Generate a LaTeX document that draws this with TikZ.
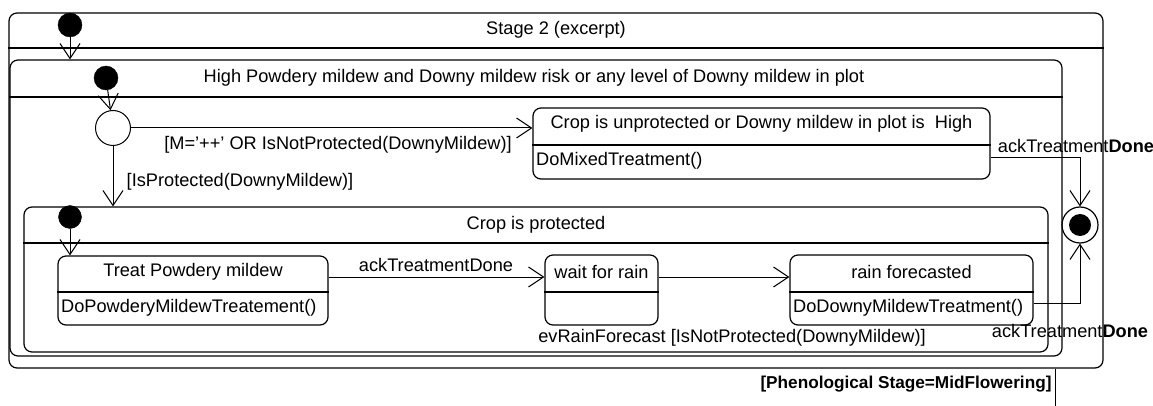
\documentclass[tikz,border=0pt]{standalone}
\usepackage{fontspec}
\setmainfont{Liberation Sans}
\usetikzlibrary{arrows.meta,calc}
\begin{document}
\begin{tikzpicture}[x=1pt,y=-1pt,
  every node/.style={font=\fontsize{18.2}{22}\selectfont},
  box/.style={draw, rounded corners=8pt, line width=1.2pt, inner sep=0pt},
  divider/.style={line width=1.6pt},
  initst/.style={circle, fill=black, draw=black, inner sep=0pt, minimum size=24pt},
  lbl/.style={inner sep=0pt},
  trans/.style={line width=1pt, -{Straight Barb[length=15pt,width=20pt,line width=1pt]}},
  plain/.style={line width=1pt}]
\useasboundingbox (0,0) rectangle (1153,406);
% composite states
\node[box, minimum width=1094pt, minimum height=355pt] (stage) at (556,190.5) {};
\node[lbl] (stageT) at (556,30) {Stage 2 (excerpt)};
\draw[divider] (stage.west |- 0,48) -- (stage.east |- 0,48);

\node[box, minimum width=1052pt, minimum height=296pt] (hp) at (536,208) {};
\node[lbl] (hpT) at (534,78) {High Powdery mildew and Downy mildew risk or any level of Downy mildew in plot};
\draw[divider] (hp.west |- 0,97) -- (hp.east |- 0,97);

\node[box, minimum width=1024pt, minimum height=145pt] (cp) at (536,279.5) {};
\node[lbl] (cpT) at (536,225) {Crop is protected};
\draw[divider] (cp.west |- 0,243) -- (cp.east |- 0,243);

% simple states
\node[box, minimum width=457pt, minimum height=71pt] (unprot) at (761.5,143.5) {};
\node[lbl] (unprotT) at (761.5,124) {Crop is unprotected or Downy mildew in plot is~~High};
\draw[divider] (unprot.west |- 0,145) -- (unprot.east |- 0,145);
\node[lbl, anchor=west] (unprotB) at (536,161) {DoMixedTreatment()};

\node[box, minimum width=270pt, minimum height=69pt] (treat) at (193,290.5) {};
\node[lbl] (treatT) at (193,272) {Treat Powdery mildew};
\draw[divider] (treat.west |- 0,292) -- (treat.east |- 0,292);
\node[lbl, anchor=west] (treatB) at (61,308) {DoPowderyMildewTreatement()};

\node[box, minimum width=113pt, minimum height=70pt] (wait) at (601.5,290) {};
\node[lbl] (waitT) at (601.5,272) {wait for rain};
\draw[divider] (wait.west |- 0,292) -- (wait.east |- 0,292);

\node[box, minimum width=243pt, minimum height=70pt] (rain) at (911.5,290) {};
\node[lbl] (rainT) at (911.5,272) {rain forecasted};
\draw[divider] (rain.west |- 0,292) -- (rain.east |- 0,292);
\node[lbl, anchor=west] (rainB) at (793,308) {DoDownyMildewTreatment()};

% pseudo states
\node[initst] (i1) at (70,25) {};
\node[initst] (i2) at (106,78) {};
\node[initst, minimum size=23pt] (i3) at (70,217) {};
\node[circle, draw, line width=1pt, inner sep=0pt, minimum size=35pt] (c) at (113,128) {};
\node[circle, draw, line width=1.2pt, inner sep=0pt, minimum size=36pt] (f) at (1080,225) {};
\fill (f.center) circle (11pt);

% transitions
\draw[trans] (i1) -- (i1 |- hp.north);
\draw[trans] (i2) -- (c);
\draw[trans] (c.east) -- (c.east -| unprot.west);
\node[lbl] (l1) at (338,145) {[M='++' OR IsNotProtected(DownyMildew)]};
\draw[trans] (c.south) -- (c.south |- cp.north);
\node[lbl] (l2) at (240,182) {[IsProtected(DownyMildew)]};
\draw[trans] (i3) -- (i3 |- treat.north);
\draw[trans] ([yshift=13.5pt]treat.east) -- ([yshift=13.5pt]treat.east -| wait.west);
\node[lbl] (l3) at (436,265) {ackTreatmentDone};
\draw[trans] ([yshift=13pt]wait.east) -- ([yshift=13pt]rain.west);
\node[lbl] (l4) at (732,338) {evRainForecast [IsNotProtected(DownyMildew)]};
\draw[trans] ([yshift=-14.5pt]unprot.east) -| (f.north);
\node[lbl] (l5) at (1076,146) {ackTreatment\textbf{Done}};
\draw[trans] ([yshift=-13pt]rain.east) -| (f.south);
\node[lbl] (l6) at (1070,331) {ackTreatment\textbf{Done}};
\coordinate (exit) at (1055,406);
\draw[plain] (exit |- stage.south) -- (exit);
\node[lbl, font=\fontsize{17.2}{21}\selectfont\bfseries] (l7) at (906,384) {[Phenological Stage=MidFlowering]};
\end{tikzpicture}
\end{document}
